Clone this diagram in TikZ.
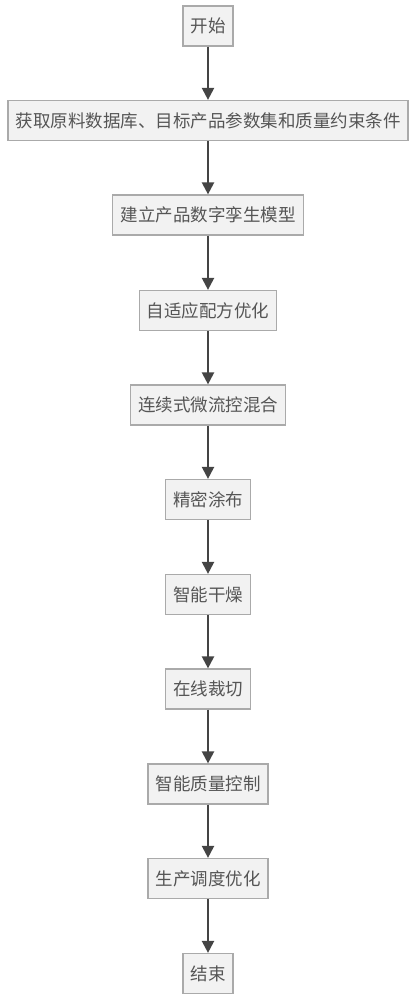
\documentclass[tikz,border=0pt]{standalone}
\usepackage{fontspec}
\newfontfamily\cjk{Noto Sans CJK SC}
\usetikzlibrary{arrows.meta}
\definecolor{boxfill}{HTML}{F2F2F2}
\definecolor{boxline}{HTML}{AAAAAA}
\definecolor{boxtext}{HTML}{555555}
\definecolor{arrowline}{HTML}{444444}
\tikzset{
    every node/.style={rectangle, fill=boxfill, draw=boxline, line width=1.2pt,
    	minimum height=40pt, inner xsep=7.5pt, text=boxtext,
    	font=\cjk\fontsize{17.5pt}{20pt}\selectfont}
}
\tikzset{
    every edge/.append style={line width=2.2pt, draw=arrowline,
    	-{Triangle[length=12pt,width=12pt]}}
}

\begin{document}
\begin{tikzpicture}
	\useasboundingbox (0pt, 0pt) rectangle (416pt, -1000pt);
	\node (1) at (208pt, -26pt) {开始};
	\node (2) at (208pt, -120.5pt) {获取原料数据库、目标产品参数集和质量约束条件};
	\node (3) [minimum width=191pt] at (208pt, -215pt) {建立产品数字孪生模型};
	\node (4) at (208pt, -310.5pt) {自适应配方优化};
	\node (5) at (208pt, -405pt) {连续式微流控混合};
	\node (6) at (208pt, -499.5pt) {精密涂布};
	\node (7) at (208pt, -594.5pt) {智能干燥};
	\node (8) at (208pt, -689pt) {在线裁切};
	\node (9) at (208pt, -784pt) {智能质量控制};
	\node (10) at (208pt, -878.5pt) {生产调度优化};
	\node (11) at (208pt, -973.5pt) {结束};
	
	\draw (1) edge (2); \draw (2) edge (3);
	\draw (3) edge (4); \draw (4) edge (5);
	\draw (5) edge (6); \draw (6) edge (7);
	\draw (7) edge (8); \draw (8) edge (9);
	\draw (9) edge (10); \draw (10) edge (11);
\end{tikzpicture}
\end{document}
